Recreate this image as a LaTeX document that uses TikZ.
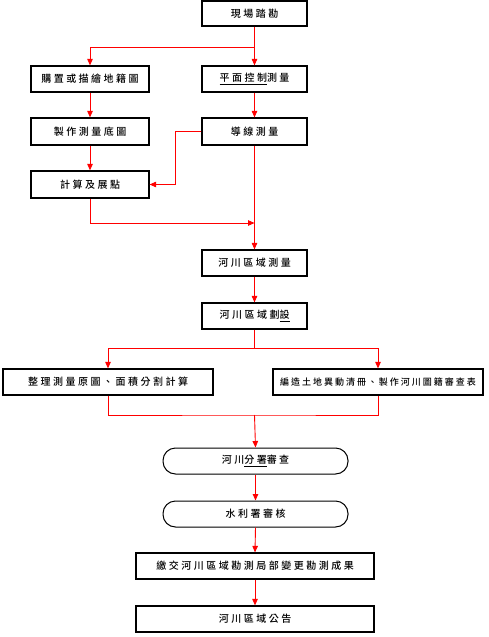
\documentclass[tikz,border=0pt]{standalone}
\usepackage{fontspec}
\newfontfamily\cjk[LetterSpace=25,UprightFont={* Medium}]{Noto Sans CJK TC}
\newfontfamily\cjksm[LetterSpace=22,UprightFont={* Medium}]{Noto Sans CJK TC}
\usetikzlibrary{arrows.meta}
\begin{document}
\begin{tikzpicture}[x=1pt,y=-1pt,
  box/.style={draw=black,line width=1.2pt,fill=white,inner sep=0pt,font=\cjk\fontsize{10}{12}\selectfont,text=black},
  rbox/.style={box,line width=1pt,rounded corners=12.5pt},
  arr/.style={draw=red,line width=0.9pt,-{Triangle[width=5.5pt,length=6.5pt]}},
  ln/.style={draw=red,line width=0.9pt}]
\useasboundingbox (0,0) rectangle (489,637);
\node[box,minimum width=105pt,minimum height=25pt] (site) at (254.5,13.5) {現場踏勘};
\node[box,minimum width=118pt,minimum height=26pt] (buy) at (90,79) {購置或描繪地籍圖};
\node[box,minimum width=105pt,minimum height=26pt] (pm) at (254.5,79) {\underline{平面控制}測量};
\node[box,minimum width=118pt,minimum height=27pt] (base) at (90,131.5) {製作測量底圖};
\node[box,minimum width=105pt,minimum height=27pt] (trav) at (254.5,131.5) {導線測量};
\node[box,minimum width=118pt,minimum height=27pt] (calc) at (90,184.5) {計算及展點};
\node[box,minimum width=105pt,minimum height=26pt] (river) at (254.5,263) {河川區域測量};
\node[box,minimum width=105pt,minimum height=26pt] (delin) at (254.5,316) {河川區域劃\underline{設}};
\node[box,minimum width=210pt,minimum height=26pt] (org) at (108,382) {整理測量原圖、面積分割計算};
\node[box,font=\cjksm\fontsize{9}{11}\selectfont,minimum width=210pt,minimum height=26pt] (comp) at (378,382) {編造土地異動清冊、製作河川圖籍審查表};
\node[rbox,minimum width=185pt,minimum height=26pt] (rev1) at (255.5,461) {河川\underline{分署}審查};
\node[rbox,minimum width=185pt,minimum height=26pt] (rev2) at (255.5,514) {水利署審核};
\node[box,minimum width=238pt,minimum height=26pt] (sub) at (255,566) {繳交河川區域勘測局部變更勘測成果};
\node[box,minimum width=238pt,minimum height=26pt] (ann) at (255,619) {河川區域公告};
\coordinate (s1) at (254.5,47);
\coordinate (j1) at (254.5,223);
\coordinate (s2) at (254.5,348);
\coordinate (m) at (254.5,415);
\draw[arr] (site.south) -- (pm.north);
\draw[arr] (s1) -| (buy.north);
\draw[arr] (buy.south) -- (base.north);
\draw[arr] (base.south) -- (calc.north);
\draw[arr] (pm.south) -- (trav.north);
\draw[arr] (trav.west) -- ++(-26,0) |- (calc.east);
\draw[arr] (trav.south) -- (river.north);
\draw[arr] (calc.south) |- (j1);
\draw[arr] (river.south) -- (delin.north);
\draw[ln] (delin.south) -- (s2);
\draw[arr] (s2) -| (org.north);
\draw[arr] (s2) -| (comp.north);
\draw[ln] (org.south) |- (m) -| (comp.south);
\draw[arr] (m) -- (rev1.north);
\draw[arr] (rev1.south) -- (rev2.north);
\draw[arr] (rev2.south) -- (sub.north);
\draw[arr] (sub.south) -- (ann.north);
\end{tikzpicture}
\end{document}
